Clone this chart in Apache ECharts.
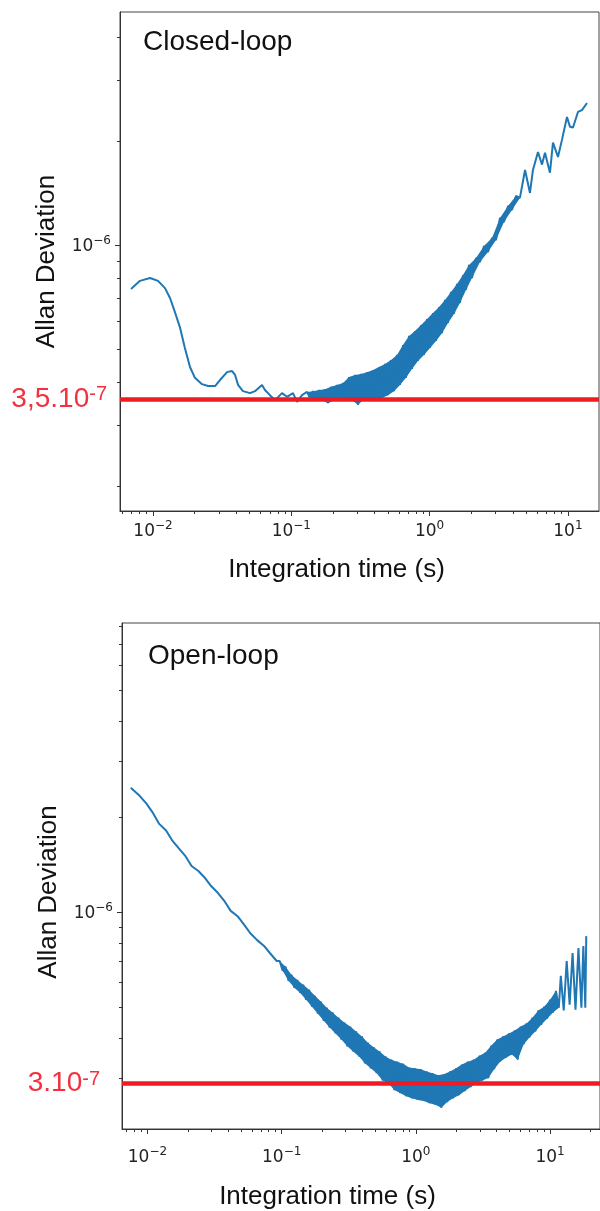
<!DOCTYPE html>
<html><head><meta charset="utf-8">
<script src="https://cdn.jsdelivr.net/npm/echarts@6/dist/echarts.min.js"></script>
<style>html,body{margin:0;padding:0;background:#fff}#c{width:600px;height:1211px}</style>
</head><body><div id="c"></div>
<script>
// ---------- Closed-loop panel data (integration time in s, Allan deviation) ----------
const closedTime = [
  6.93e-3, 8.05e-3, 9.51e-3, 1.087e-2, 1.22e-2, 1.327e-2, 1.44e-2, 1.57e-2, 1.70e-2, 1.85e-2,
  2.01e-2, 2.26e-2, 2.50e-2, 2.81e-2, 3.05e-2, 3.43e-2, 3.73e-2, 3.92e-2, 4.12e-2, 4.47e-2,
  5.03e-2, 5.46e-2, 6.14e-2, 6.45e-2, 7.01e-2, 7.62e-2, 8.57e-2, 9.31e-2, 0.1029, 0.110, 0.1195,
  0.130, 0.1365, 0.1435, 0.151, 0.1586, 0.1667, 0.1752, 0.1842, 0.1936, 0.2035,
  0.214, 0.225, 0.2365, 0.2486, 0.2614, 0.2748, 0.2889, 0.3037, 0.319, 0.3355,
  0.3527, 0.3708, 0.3898, 0.4098, 0.4308, 0.4529, 0.476, 0.5004, 0.526, 0.553,
  0.581, 0.611, 0.642, 0.675, 0.710, 0.746, 0.784, 0.824, 0.867, 0.911,
  0.958, 1.007, 1.058, 1.113, 1.17, 1.229, 1.292, 1.359, 1.428, 1.501,
  1.578, 1.659, 1.744, 1.833, 1.928, 2.026, 2.166, 2.314, 2.474, 2.644,
  2.826, 3.021, 3.228, 3.451, 3.69, 3.94, 4.21, 4.50,
  4.90, 5.32, 5.59, 6.08, 6.50, 6.83, 7.42, 7.80, 8.48, 9.07, 9.85, 10.36, 10.89, 11.83, 12.65, 13.75
];
const closedAdev = [
  7.46e-7, 7.87e-7, 8.02e-7, 7.87e-7, 7.50e-7, 7.02e-7, 6.39e-7, 5.75e-7, 5.03e-7, 4.43e-7,
  4.12e-7, 3.95e-7, 3.90e-7, 3.90e-7, 4.06e-7, 4.28e-7, 4.31e-7, 4.20e-7, 3.93e-7, 3.77e-7,
  3.72e-7, 3.77e-7, 3.93e-7, 3.80e-7, 3.67e-7, 3.55e-7, 3.72e-7, 3.63e-7, 3.72e-7, 3.51e-7, 3.67e-7,
  3.75e-7, 3.60e-7, 3.77e-7, 3.57e-7, 3.80e-7, 3.55e-7, 3.82e-7, 3.48e-7, 3.88e-7, 3.55e-7,
  3.93e-7, 3.60e-7, 3.98e-7, 3.57e-7, 4.14e-7, 3.55e-7, 4.20e-7, 3.44e-7, 4.23e-7, 3.57e-7,
  4.28e-7, 3.53e-7, 4.34e-7, 3.57e-7, 4.43e-7, 3.60e-7, 4.52e-7, 3.67e-7, 4.64e-7, 3.77e-7,
  4.80e-7, 3.93e-7, 5.13e-7, 4.12e-7, 5.45e-7, 4.37e-7, 5.63e-7, 4.61e-7, 5.86e-7, 4.80e-7,
  6.10e-7, 5.03e-7, 6.35e-7, 5.27e-7, 6.61e-7, 5.55e-7, 6.93e-7, 5.94e-7, 7.31e-7, 6.31e-7,
  7.71e-7, 6.79e-7, 8.18e-7, 7.41e-7, 8.75e-7, 8.02e-7, 9.17e-7, 8.93e-7, 9.93e-7, 9.55e-7,
  1.048e-6, 1.034e-6, 1.198e-6, 1.166e-6, 1.297e-6, 1.263e-6, 1.387e-6, 1.369e-6,
  1.65e-6, 1.415e-6, 1.65e-6, 1.86e-6, 1.71e-6, 1.85e-6, 1.62e-6, 1.98e-6, 1.80e-6, 2.02e-6, 2.35e-6, 2.20e-6, 2.19e-6, 2.43e-6, 2.46e-6, 2.58e-6
];
// first and last index of the dense noisy stretch (alternating upper / lower excursions)
const closedBand = [31, 98];

// ---------- Open-loop panel data ----------
const openTime = [
  7.51e-3, 8.74e-3, 9.83e-3, 1.088e-2, 1.223e-2, 1.376e-2, 1.522e-2, 1.713e-2, 1.926e-2, 2.131e-2,
  2.397e-2, 2.696e-2, 2.982e-2, 3.354e-2, 3.773e-2, 4.173e-2, 4.694e-2, 5.28e-2, 5.84e-2, 6.57e-2,
  7.39e-2, 8.17e-2, 9.19e-2,
  0.0967, 0.1017, 0.1070, 0.1125, 0.1183, 0.1244, 0.1309, 0.1376, 0.1447, 0.1522,
  0.1601, 0.1683, 0.1770, 0.1862, 0.1959, 0.2060, 0.2166, 0.2278, 0.2396, 0.2520,
  0.2651, 0.2788, 0.2932, 0.3084, 0.3243, 0.3411, 0.3587, 0.3773, 0.3968, 0.4173,
  0.4389, 0.4616, 0.4855, 0.5105, 0.5370, 0.5648, 0.5939, 0.6247, 0.6570, 0.6910,
  0.7267, 0.7643, 0.8038, 0.8453, 0.8890, 0.9350, 0.9833, 1.034, 1.088, 1.144,
  1.203, 1.265, 1.331, 1.400, 1.472, 1.548, 1.628, 1.713, 1.801, 1.894,
  1.992, 2.095, 2.203, 2.317, 2.437, 2.563, 2.696, 2.835, 2.982, 3.136,
  3.298, 3.468, 3.648, 3.836, 4.035, 4.243, 4.462, 4.694, 4.936, 5.192,
  5.460, 5.742, 6.039, 6.351, 6.679, 7.025, 7.388, 7.770, 8.172, 8.594,
  9.038, 9.508, 10.0, 10.52, 11.06, 11.63,
  12.03, 12.65, 13.31, 14.0, 14.72, 15.48, 16.28, 17.13, 17.71, 18.32, 18.62
];
const openAdev = [
  2.47e-6, 2.33e-6, 2.20e-6, 2.07e-6, 1.90e-6, 1.81e-6, 1.69e-6, 1.59e-6, 1.50e-6, 1.40e-6,
  1.35e-6, 1.28e-6, 1.21e-6, 1.15e-6, 1.08e-6, 1.01e-6, 9.72e-7, 9.11e-7, 8.59e-7, 8.17e-7,
  7.83e-7, 7.44e-7, 7.02e-7,
  7.02e-7, 6.54e-7, 6.73e-7, 6.08e-7, 6.35e-7, 5.78e-7, 6.12e-7, 5.57e-7, 5.91e-7, 5.30e-7,
  5.70e-7, 5.04e-7, 5.45e-7, 4.79e-7, 5.23e-7, 4.55e-7, 5.00e-7, 4.33e-7, 4.83e-7, 4.15e-7,
  4.65e-7, 3.97e-7, 4.49e-7, 3.78e-7, 4.36e-7, 3.64e-7, 4.21e-7, 3.51e-7, 4.06e-7, 3.34e-7,
  3.88e-7, 3.22e-7, 3.75e-7, 3.11e-7, 3.64e-7, 2.95e-7, 3.51e-7, 2.89e-7, 3.43e-7, 2.75e-7,
  3.38e-7, 2.69e-7, 3.33e-7, 2.63e-7, 3.24e-7, 2.59e-7, 3.22e-7, 2.56e-7, 3.20e-7, 2.54e-7,
  3.15e-7, 2.50e-7, 3.11e-7, 2.47e-7, 3.06e-7, 2.42e-7, 3.09e-7, 2.52e-7, 3.15e-7, 2.59e-7,
  3.22e-7, 2.65e-7, 3.31e-7, 2.73e-7, 3.38e-7, 2.81e-7, 3.43e-7, 2.89e-7, 3.53e-7, 2.95e-7,
  3.61e-7, 3.00e-7, 3.80e-7, 3.20e-7, 3.97e-7, 3.38e-7, 4.06e-7, 3.48e-7, 4.15e-7, 3.56e-7,
  4.24e-7, 3.43e-7, 4.36e-7, 3.83e-7, 4.46e-7, 4.03e-7, 4.65e-7, 4.21e-7, 4.90e-7, 4.42e-7,
  5.04e-7, 4.62e-7, 5.30e-7, 4.83e-7, 5.65e-7, 5.00e-7,
  6.30e-7, 4.90e-7, 7.02e-7, 5.11e-7, 7.44e-7, 4.93e-7, 7.71e-7, 5.00e-7, 7.83e-7, 5.00e-7, 8.41e-7
];
const openBand = [23, 118];

// ---------- reference levels (red lines) and their labels ----------
const refLevels = [3.58e-7, 2.88e-7];
const refLabelMantissa = ['3,5.10', '3.10'];
const refLabelExponent = ['-7', '-7'];
const panelTitles = ['Closed-loop', 'Open-loop'];

// ---------- ticks ----------
const xMajorTicks = [0.01, 0.1, 1, 10];
const xMinorTicks = [0.006, 0.007, 0.008, 0.009, 0.02, 0.03, 0.04, 0.05, 0.06, 0.07, 0.08, 0.09,
  0.2, 0.3, 0.4, 0.5, 0.6, 0.7, 0.8, 0.9, 2, 3, 4, 5, 6, 7, 8, 9, 20];
const yMajorTicks = [1e-6];
const yMinorTicks = [2e-7, 3e-7, 4e-7, 5e-7, 6e-7, 7e-7, 8e-7, 9e-7, 2e-6, 3e-6, 4e-6, 5e-6, 6e-6, 7e-6, 8e-6, 9e-6];

const zip = (a, b) => a.map((v, i) => [v, b[i]]);

function powLabel(v) {
  const e = Math.round(Math.log10(v));
  return '{b|10}{s|' + (e < 0 ? '\u2212' : '') + Math.abs(e) + '}';
}
const tickRich = {
  b: { fontFamily: 'DejaVu Sans', fontSize: 17, color: '#222', padding: [3, 0, 0, 0], verticalAlign: 'bottom' },
  s: { fontFamily: 'DejaVu Sans', fontSize: 12, color: '#222', verticalAlign: 'top' }
};
const titleFont = { fontFamily: 'Liberation Sans', fontSize: 26, color: '#111' };
const RED = '#ed1c24';
const BLUE = '#1f77b4';

const panels = [
  { grid: { left: 120, top: 12, width: 479, height: 499 }, xmin: 5.77e-3, xmax: 16.79, ymin: 1.694e-7, ymax: 4.735e-6,
    xLabelMargin: 9, xNameGap: 46, xNamePad: [0, 46, 0, 0], yNameGap: 60, yNamePad: [0, 0, 0, 0], refDist: 13 },
  { grid: { left: 122, top: 623, width: 488, height: 509 }, xmin: 6.46e-3, xmax: 23.57, ymin: 2.073e-7, ymax: 8.17e-6,
    xLabelMargin: 17, xNameGap: 55, xNamePad: [0, 67, 0, 0], yNameGap: 60, yNamePad: [0, 32, 0, 0], refDist: 22 }
];

const xAxes = [], yAxes = [], series = [];
panels.forEach((p, i) => {
  xAxes.push({
    type: 'log', logBase: 10, gridIndex: i, min: p.xmin, max: p.xmax, position: 'bottom',
    axisLine: { show: true, lineStyle: { color: '#333', width: 1 } },
    axisTick: { show: true, length: 5, lineStyle: { color: '#333', width: 1 }, customValues: xMajorTicks },
    axisLabel: { customValues: xMajorTicks, formatter: powLabel, rich: tickRich, margin: p.xLabelMargin },
    splitLine: { show: false },
    name: 'Integration time (s)', nameLocation: 'middle', nameGap: p.xNameGap,
    nameTextStyle: Object.assign({ padding: p.xNamePad }, titleFont)
  });
  yAxes.push({
    type: 'log', logBase: 10, gridIndex: i, min: p.ymin, max: p.ymax, position: 'left',
    axisLine: { show: true, lineStyle: { color: '#333', width: 1 } },
    axisTick: { show: true, length: 5, lineStyle: { color: '#333', width: 1 }, customValues: yMajorTicks },
    axisLabel: { customValues: yMajorTicks, formatter: powLabel, rich: tickRich, margin: 9 },
    splitLine: { show: false },
    name: 'Allan Deviation', nameLocation: 'middle', nameGap: p.yNameGap,
    nameTextStyle: Object.assign({ padding: p.yNamePad }, titleFont)
  });
});
panels.forEach((p, i) => {
  xAxes.push({
    type: 'log', logBase: 10, gridIndex: i, min: p.xmin, max: p.xmax, position: 'bottom',
    axisLine: { show: false },
    axisTick: { show: true, length: 3, lineStyle: { color: '#333', width: 1 }, customValues: xMinorTicks },
    axisLabel: { show: false }, splitLine: { show: false }
  });
  yAxes.push({
    type: 'log', logBase: 10, gridIndex: i, min: p.ymin, max: p.ymax, position: 'left',
    axisLine: { show: false },
    axisTick: { show: true, length: 3, lineStyle: { color: '#333', width: 1 }, customValues: yMinorTicks },
    axisLabel: { show: false }, splitLine: { show: false }
  });
});

const dataSets = [zip(closedTime, closedAdev), zip(openTime, openAdev)];
const bands = [closedBand, openBand];
dataSets.forEach((d, i) => {
  const p = panels[i];
  const bandPts = d.slice(bands[i][0], bands[i][1] + 1);
  // filled envelope of the noisy stretch: upper excursions left->right, lower excursions right->left
  series.push({
    type: 'custom', xAxisIndex: i, yAxisIndex: i, silent: true, animation: false, z: 2,
    data: [bandPts[0]],
    renderItem: (params, api) => {
      const tops = [], bots = [];
      bandPts.forEach((pt, k) => (k % 2 === 0 ? tops : bots).push(api.coord(pt)));
      return { type: 'polygon', shape: { points: tops.concat(bots.reverse()) }, style: { fill: BLUE } };
    }
  });
  series.push({
    type: 'line', xAxisIndex: i, yAxisIndex: i, data: d, showSymbol: false, symbol: 'none',
    lineStyle: { color: BLUE, width: 2 }, silent: true, animation: false, z: 3
  });
  // red reference level
  series.push({
    type: 'line', xAxisIndex: i, yAxisIndex: i, data: [], silent: true, animation: false, z: 5,
    markLine: {
      silent: true, symbol: ['none', 'none'], animation: false,
      lineStyle: { color: RED, width: 4.5, type: 'solid' },
      label: {
        show: true, position: 'start', distance: p.refDist,
        formatter: '{n|' + refLabelMantissa[i] + '}{e|' + refLabelExponent[i] + '}',
        rich: {
          n: { fontFamily: 'Liberation Sans', fontSize: 28, color: '#f2303f', verticalAlign: 'bottom' },
          e: { fontFamily: 'Liberation Sans', fontSize: 20, color: '#f2303f', verticalAlign: 'top' }
        }
      },
      emphasis: { disabled: true },
      data: [[{ coord: [p.xmin, refLevels[i]] }, { coord: [p.xmax, refLevels[i]] }]]
    }
  });
});

const chart = echarts.init(document.getElementById('c'), null, { renderer: 'canvas' });
chart.setOption({
  animation: false,
  backgroundColor: '#fff',
  title: [
    { text: panelTitles[0], left: 143, top: 28, padding: 0,
      textStyle: { fontFamily: 'Liberation Sans', fontSize: 28, fontWeight: 'normal', color: '#111' } },
    { text: panelTitles[1], left: 148, top: 642, padding: 0,
      textStyle: { fontFamily: 'Liberation Sans', fontSize: 28, fontWeight: 'normal', color: '#111' } }
  ],
  grid: panels.map(p => Object.assign({ show: true, borderColor: '#444', borderWidth: 1, backgroundColor: 'transparent' }, p.grid)),
  xAxis: xAxes,
  yAxis: yAxes,
  series: series
});
</script></body></html>
